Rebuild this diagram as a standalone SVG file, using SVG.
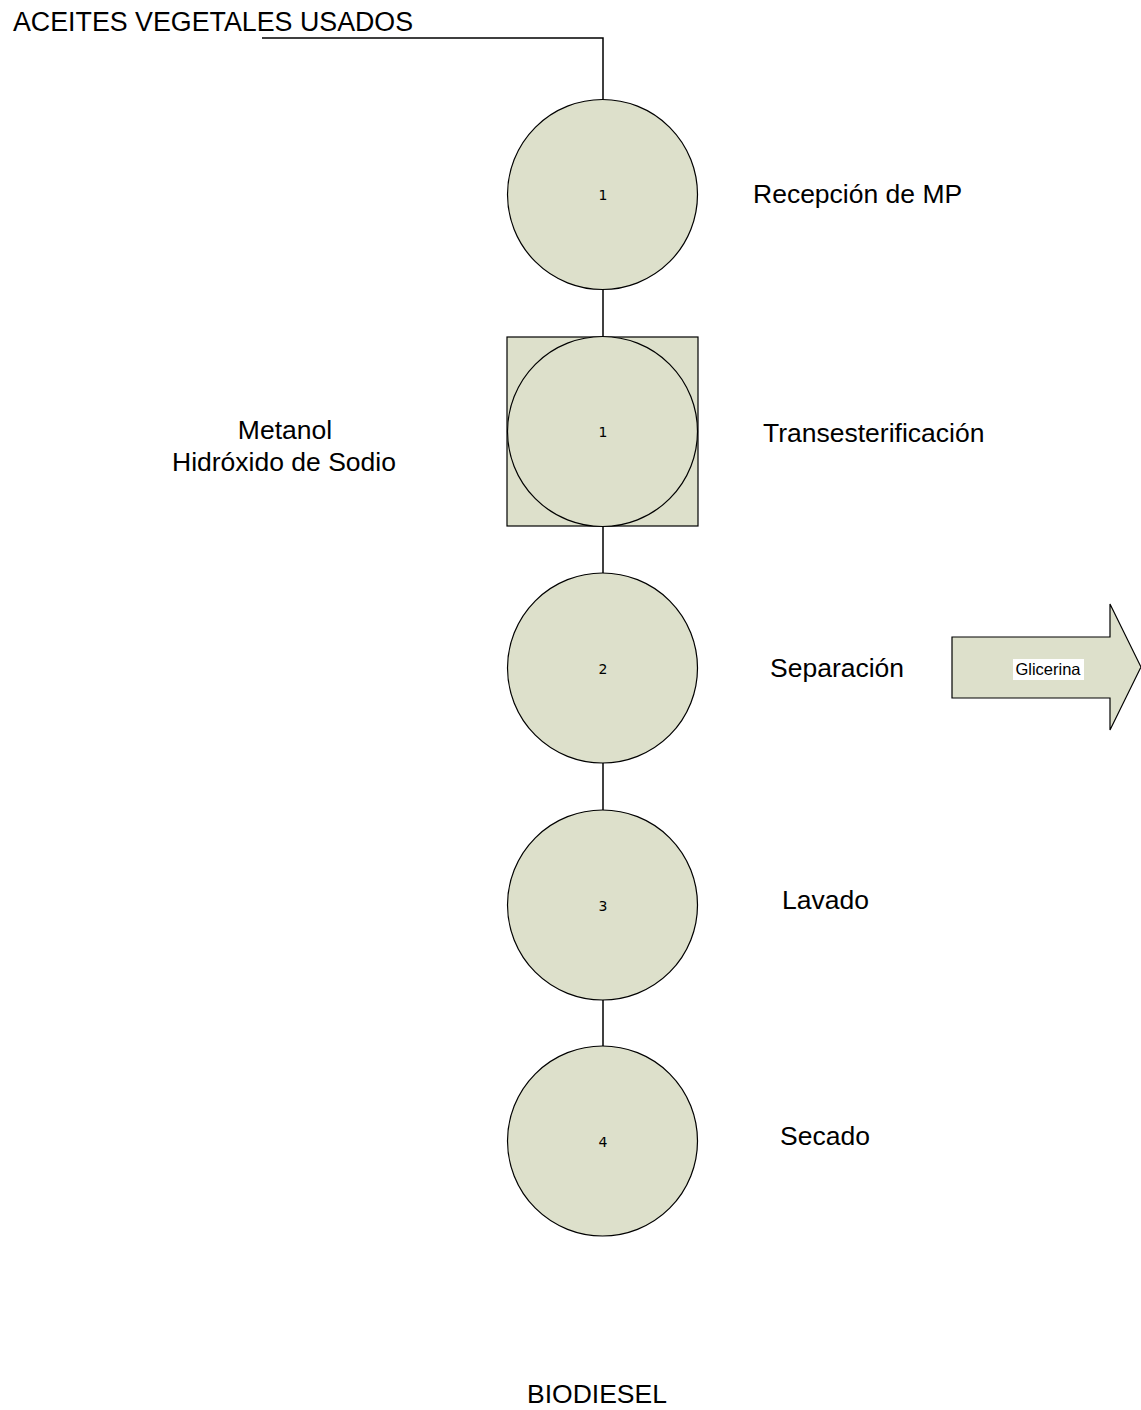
<svg xmlns="http://www.w3.org/2000/svg" width="1141" height="1410" viewBox="0 0 1141 1410">
<style>
.shape{fill:#dde0cb;stroke:#000;stroke-width:1.2}
.lbl{font-family:"Liberation Sans",Arial,sans-serif;font-size:26.5px;fill:#000}
.num{font-family:"DejaVu Sans",sans-serif;font-size:14px;fill:#000;text-anchor:middle}
.conn{stroke:#000;stroke-width:1.5;fill:none}
</style>
<rect width="1141" height="1410" fill="#fff"/>
<g id="connectors">
<polyline class="conn" points="262,38 603,38 603,100"/>
<line class="conn" x1="603" y1="289" x2="603" y2="337"/>
<line class="conn" x1="603" y1="526" x2="603" y2="573"/>
<line class="conn" x1="603" y1="763" x2="603" y2="810"/>
<line class="conn" x1="603" y1="1000" x2="603" y2="1046"/>
</g>
<text class="lbl" x="13" y="31" style="font-size:26.8px">ACEITES VEGETALES USADOS</text>
<g id="node1">
<circle class="shape" cx="602.5" cy="194.5" r="95"/>
<text class="num" x="603" y="200">1</text>
</g>
<text class="lbl" x="753" y="203">Recepción de MP</text>
<g id="node2">
<rect class="shape" x="507" y="337" width="191" height="189"/>
<circle class="shape" cx="602.5" cy="431.5" r="95"/>
<text class="num" x="603" y="437">1</text>
</g>
<text class="lbl" x="763" y="442">Transesterificación</text>
<text class="lbl" x="285" y="439" text-anchor="middle">Metanol</text>
<text class="lbl" x="284" y="471" text-anchor="middle">Hidróxido de Sodio</text>
<g id="node3">
<circle class="shape" cx="602.5" cy="668" r="95"/>
<text class="num" x="603" y="674">2</text>
</g>
<text class="lbl" x="770" y="677">Separación</text>
<g id="glicerina">
<polygon class="shape" points="952,637 1110,637 1110,604 1141,667 1110,730 1110,698 952,698"/>
<rect x="1013" y="659" width="71" height="21" fill="#fff"/>
<text x="1048" y="675" text-anchor="middle" font-family="Liberation Sans, Arial, sans-serif" font-size="16.5px">Glicerina</text>
</g>
<g id="node4">
<circle class="shape" cx="602.5" cy="905" r="95"/>
<text class="num" x="603" y="911">3</text>
</g>
<text class="lbl" x="782" y="909">Lavado</text>
<g id="node5">
<circle class="shape" cx="602.5" cy="1141" r="95"/>
<text class="num" x="603" y="1147">4</text>
</g>
<text class="lbl" x="780" y="1145">Secado</text>
<text class="lbl" x="527" y="1403">BIODIESEL</text>
</svg>
